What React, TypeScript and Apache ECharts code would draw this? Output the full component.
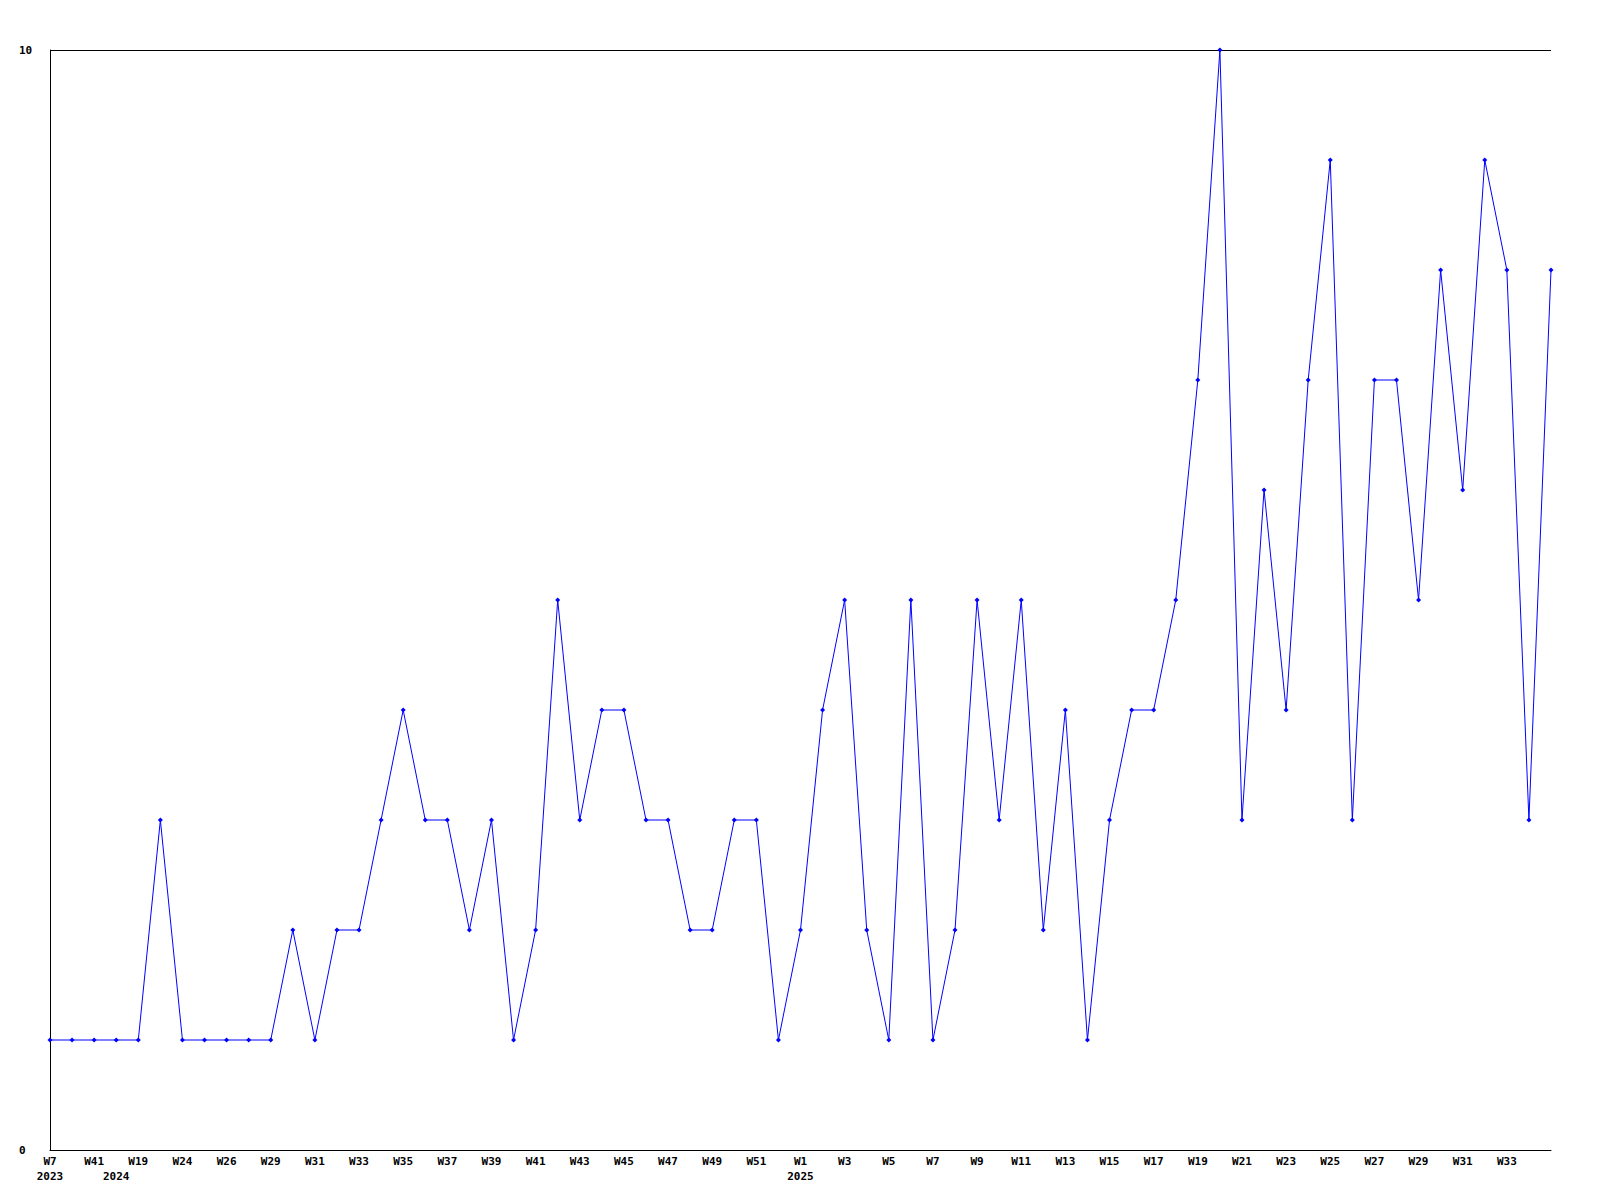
import React, { useEffect, useRef } from "react";
import * as echarts from "echarts";

const weeks: string[] = [
  "W7", "W40", "W41", "W15", "W19", "W22", "W24", "W25", "W26", "W28",
  "W29", "W30", "W31", "W32", "W33", "W34", "W35", "W36", "W37", "W38",
  "W39", "W40", "W41", "W42", "W43", "W44", "W45", "W46", "W47", "W48",
  "W49", "W50", "W51", "W52", "W1", "W2", "W3", "W4", "W5", "W6",
  "W7", "W8", "W9", "W10", "W11", "W12", "W13", "W14", "W15", "W16",
  "W17", "W18", "W19", "W20", "W21", "W22", "W23", "W24", "W25", "W26",
  "W27", "W28", "W29", "W30", "W31", "W32", "W33", "W34", "W35",
];

// year shown under the first week of each year
const yearLabels: Record<number, string> = { 0: "2023", 3: "2024", 34: "2025" };

const values: number[] = [
  1, 1, 1, 1, 1, 3, 1, 1, 1, 1,
  1, 2, 1, 2, 2, 3, 4, 3, 3, 2,
  3, 1, 2, 5, 3, 4, 4, 3, 3, 2,
  2, 3, 3, 1, 2, 4, 5, 2, 1, 5,
  1, 2, 5, 3, 5, 2, 4, 1, 3, 4,
  4, 5, 7, 10, 3, 6, 4, 7, 9, 3,
  7, 7, 5, 8, 6, 9, 8, 3, 8,
];

const yTicks = { min: 0, max: 10, interval: 10 };

export default function App() {
  const ref = useRef<HTMLDivElement>(null);
  useEffect(() => {
    if (!ref.current) return;
    const chart = echarts.init(ref.current, null, { renderer: "svg" });
    const font = "'DejaVu Sans Mono', monospace";
    const last = weeks.length - 1;
    chart.setOption({
      animation: false,
      backgroundColor: "#ffffff",
      grid: { left: 50, top: 50, right: 49, bottom: 50, containLabel: false },
      xAxis: {
        type: "category",
        data: weeks,
        boundaryGap: false,
        axisLine: { show: true, lineStyle: { color: "#000", width: 1 } },
        axisTick: { show: false },
        splitLine: { show: false },
        axisLabel: {
          interval: (index: number) => (index % 2 === 0 && index !== last) || index === 3,
          formatter: (value: string, index: number) => {
            const y = yearLabels[index];
            if (index === 3) return "\n" + y;
            return y ? value + "\n" + y : value;
          },
          color: "#000",
          fontFamily: font,
          fontWeight: "bold",
          fontSize: 11,
          lineHeight: 15,
          margin: 4,
          hideOverlap: false,
        },
      },
      yAxis: {
        type: "value",
        min: yTicks.min,
        max: yTicks.max,
        interval: yTicks.interval,
        axisLine: { show: true, lineStyle: { color: "#000", width: 1 } },
        axisTick: { show: false },
        splitLine: { show: true, lineStyle: { color: "#000", width: 1 } },
        axisLabel: {
          color: "#000",
          fontFamily: font,
          fontWeight: "bold",
          fontSize: 11,
          align: "left",
          margin: 31,
        },
      },
      series: [
        {
          type: "line",
          data: values,
          symbol: "diamond",
          symbolSize: 5,
          showAllSymbol: true,
          itemStyle: { color: "#0000ff" },
          lineStyle: { color: "#0000ff", width: 1 },
        },
      ],
    });
    return () => chart.dispose();
  }, []);
  return (
    <div
      ref={ref}
      style={{ position: "fixed", left: 0, top: 0, width: 1600, height: 1200, background: "#fff" }}
    />
  );
}
